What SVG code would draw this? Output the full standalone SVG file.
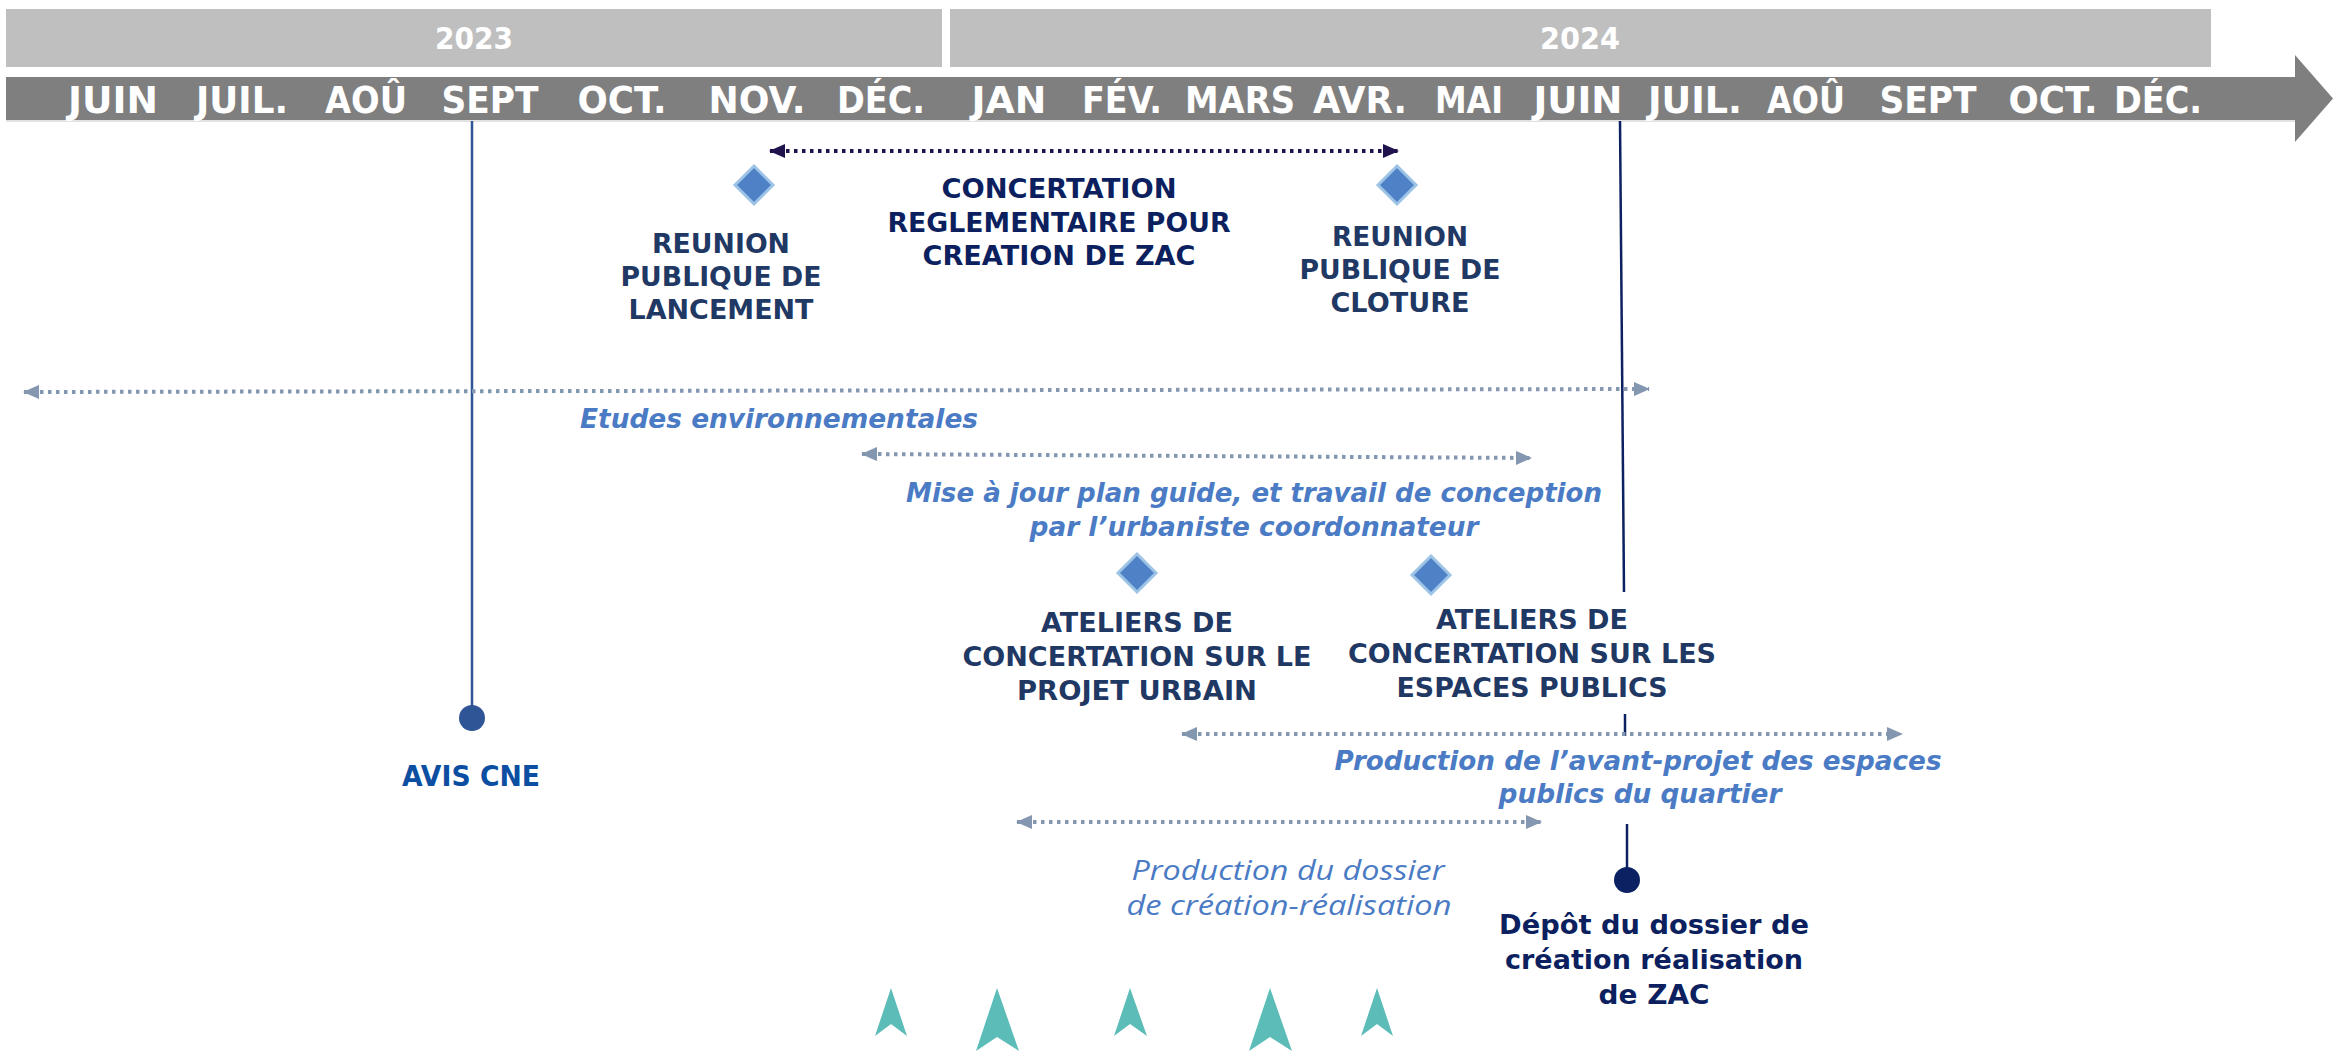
<svg xmlns="http://www.w3.org/2000/svg" width="2333" height="1051" viewBox="0 0 2333 1051">
<style>
  .yr{font-family:"DejaVu Sans",sans-serif;font-weight:bold;font-size:30px;fill:#ffffff;text-anchor:middle}
  .mo{font-family:"DejaVu Sans",sans-serif;font-weight:bold;font-size:37px;fill:#ffffff;text-anchor:middle}
  .nv{font-family:"DejaVu Sans",sans-serif;font-weight:bold;font-size:26px;fill:#1f3864;text-anchor:middle}
  .nd{font-family:"DejaVu Sans",sans-serif;font-weight:bold;font-size:26px;fill:#0c1f5e;text-anchor:middle}
  .cne{font-family:"DejaVu Sans",sans-serif;font-weight:bold;font-size:28px;fill:#0b4ea2;text-anchor:middle}
  .it{font-family:"DejaVu Sans",sans-serif;font-weight:bold;font-style:italic;font-size:26px;fill:#4a7bc4;text-anchor:middle}
  .lt{font-family:"Open Sans",sans-serif;font-weight:400;font-style:italic;font-size:27px;fill:#4a7bc4;text-anchor:middle}
  .dot{fill:none;stroke:#8497b0;stroke-width:4;stroke-dasharray:3.5 4.5}
  .dotd{fill:none;stroke:#20124d;stroke-width:4;stroke-dasharray:3.5 4.5}
  .dia{fill:#4f81c7;stroke:#9dc3e6;stroke-width:3}
  .teal{fill:#5bbcb8}
</style>
<defs>
  <marker id="ag" markerUnits="userSpaceOnUse" markerWidth="16" markerHeight="14" refX="15" refY="7" orient="auto-start-reverse">
    <path d="M0,0 L16,7 L0,14 z" fill="#8497b0"/>
  </marker>
  <marker id="ad" markerUnits="userSpaceOnUse" markerWidth="16" markerHeight="14" refX="15" refY="7" orient="auto-start-reverse">
    <path d="M0,0 L16,7 L0,14 z" fill="#20124d"/>
  </marker>
</defs>
<rect width="2333" height="1051" fill="#ffffff"/>

<g id="years">
  <rect x="6" y="9" width="936" height="58" fill="#bfbfbf"/>
  <rect x="950" y="9" width="1261" height="58" fill="#bfbfbf"/>
  <text class="yr" x="474" y="49" textLength="78" lengthAdjust="spacingAndGlyphs">2023</text>
  <text class="yr" x="1580" y="49" textLength="80" lengthAdjust="spacingAndGlyphs">2024</text>
</g>

<g id="timeline">
  <polygon points="6,77 2295,77 2295,55 2333,98.5 2295,142 2295,120 6,120" fill="#7f7f7f"/>
  <line x1="6" y1="121" x2="2295" y2="121" stroke="#d9d9d9" stroke-width="1.5"/>
  <text class="mo" x="113" y="113" textLength="90" lengthAdjust="spacingAndGlyphs">JUIN</text>
  <text class="mo" x="242" y="113" textLength="92" lengthAdjust="spacingAndGlyphs">JUIL.</text>
  <text class="mo" x="366" y="113" textLength="82" lengthAdjust="spacingAndGlyphs">AOÛ</text>
  <text class="mo" x="490" y="113" textLength="97" lengthAdjust="spacingAndGlyphs">SEPT</text>
  <text class="mo" x="622" y="113" textLength="89" lengthAdjust="spacingAndGlyphs">OCT.</text>
  <text class="mo" x="757" y="113" textLength="97" lengthAdjust="spacingAndGlyphs">NOV.</text>
  <text class="mo" x="881" y="113" textLength="88" lengthAdjust="spacingAndGlyphs">DÉC.</text>
  <text class="mo" x="1009" y="113" textLength="75" lengthAdjust="spacingAndGlyphs">JAN</text>
  <text class="mo" x="1122" y="113" textLength="80" lengthAdjust="spacingAndGlyphs">FÉV.</text>
  <text class="mo" x="1240" y="113" textLength="110" lengthAdjust="spacingAndGlyphs">MARS</text>
  <text class="mo" x="1360" y="113" textLength="94" lengthAdjust="spacingAndGlyphs">AVR.</text>
  <text class="mo" x="1469" y="113" textLength="68" lengthAdjust="spacingAndGlyphs">MAI</text>
  <text class="mo" x="1578" y="113" textLength="89" lengthAdjust="spacingAndGlyphs">JUIN</text>
  <text class="mo" x="1695" y="113" textLength="94" lengthAdjust="spacingAndGlyphs">JUIL.</text>
  <text class="mo" x="1806" y="113" textLength="78" lengthAdjust="spacingAndGlyphs">AOÛ</text>
  <text class="mo" x="1928" y="113" textLength="97" lengthAdjust="spacingAndGlyphs">SEPT</text>
  <text class="mo" x="2053" y="113" textLength="89" lengthAdjust="spacingAndGlyphs">OCT.</text>
  <text class="mo" x="2158" y="113" textLength="88" lengthAdjust="spacingAndGlyphs">DÉC.</text>
</g>

<g id="connectors">
  <line x1="472" y1="121" x2="472" y2="706" stroke="#2f5597" stroke-width="2.5"/>
  <line x1="1620" y1="121" x2="1624" y2="592" stroke="#0c2161" stroke-width="2.5"/>
  <line x1="1625" y1="714" x2="1625" y2="736" stroke="#0c2161" stroke-width="2.5"/>
  <line x1="1627" y1="824" x2="1627" y2="870" stroke="#0c2161" stroke-width="2.5"/>
  <line class="dotd" x1="770" y1="151" x2="1398" y2="151" marker-start="url(#ad)" marker-end="url(#ad)"/>
  <line class="dot" x1="24" y1="392" x2="1649" y2="389" marker-start="url(#ag)" marker-end="url(#ag)"/>
  <line class="dot" x1="862" y1="454" x2="1531" y2="458" marker-start="url(#ag)" marker-end="url(#ag)"/>
  <line class="dot" x1="1182" y1="734" x2="1902" y2="734" marker-start="url(#ag)" marker-end="url(#ag)"/>
  <line class="dot" x1="1017" y1="822" x2="1541" y2="822" marker-start="url(#ag)" marker-end="url(#ag)"/>
</g>

<g id="reunion-lancement">
  <polygon class="dia" points="754,166 773,185 754,204 735,185"/>
  <text class="nv" x="721" y="253" textLength="138" lengthAdjust="spacingAndGlyphs">REUNION</text>
  <text class="nv" x="721" y="286" textLength="201" lengthAdjust="spacingAndGlyphs">PUBLIQUE DE</text>
  <text class="nv" x="721" y="319" textLength="185" lengthAdjust="spacingAndGlyphs">LANCEMENT</text>
</g>

<g id="concertation">
  <text class="nd" x="1059" y="198" textLength="235" lengthAdjust="spacingAndGlyphs">CONCERTATION</text>
  <text class="nd" x="1059" y="232" textLength="343" lengthAdjust="spacingAndGlyphs">REGLEMENTAIRE POUR</text>
  <text class="nd" x="1059" y="265" textLength="273" lengthAdjust="spacingAndGlyphs">CREATION DE ZAC</text>
</g>

<g id="reunion-cloture">
  <polygon class="dia" points="1397,166 1416,185 1397,204 1378,185"/>
  <text class="nv" x="1400" y="246" textLength="136" lengthAdjust="spacingAndGlyphs">REUNION</text>
  <text class="nv" x="1400" y="279" textLength="201" lengthAdjust="spacingAndGlyphs">PUBLIQUE DE</text>
  <text class="nv" x="1400" y="312" textLength="139" lengthAdjust="spacingAndGlyphs">CLOTURE</text>
</g>

<g id="etudes">
  <text class="it" x="779" y="428" textLength="398" lengthAdjust="spacingAndGlyphs">Etudes environnementales</text>
</g>

<g id="plan-guide">
  <text class="it" x="1254" y="502" textLength="696" lengthAdjust="spacingAndGlyphs">Mise à jour plan guide, et travail de conception</text>
  <text class="it" x="1254" y="536" textLength="449" lengthAdjust="spacingAndGlyphs">par l’urbaniste coordonnateur</text>
</g>

<g id="ateliers-projet">
  <polygon class="dia" points="1137,554 1156,573 1137,592 1118,573"/>
  <text class="nv" x="1137" y="632" textLength="192" lengthAdjust="spacingAndGlyphs">ATELIERS DE</text>
  <text class="nv" x="1137" y="666" textLength="349" lengthAdjust="spacingAndGlyphs">CONCERTATION SUR LE</text>
  <text class="nv" x="1137" y="700" textLength="240" lengthAdjust="spacingAndGlyphs">PROJET URBAIN</text>
</g>

<g id="ateliers-espaces">
  <polygon class="dia" points="1431,556 1450,575 1431,594 1412,575"/>
  <text class="nv" x="1532" y="629" textLength="192" lengthAdjust="spacingAndGlyphs">ATELIERS DE</text>
  <text class="nv" x="1532" y="663" textLength="368" lengthAdjust="spacingAndGlyphs">CONCERTATION SUR LES</text>
  <text class="nv" x="1532" y="697" textLength="271" lengthAdjust="spacingAndGlyphs">ESPACES PUBLICS</text>
</g>

<g id="avis-cne">
  <circle cx="472" cy="718" r="13" fill="#2f5597"/>
  <text class="cne" x="471" y="786" textLength="138" lengthAdjust="spacingAndGlyphs">AVIS CNE</text>
</g>

<g id="avant-projet">
  <text class="it" x="1638" y="770" textLength="607" lengthAdjust="spacingAndGlyphs">Production de l’avant-projet des espaces</text>
  <text class="it" x="1640" y="803" textLength="283" lengthAdjust="spacingAndGlyphs">publics du quartier</text>
</g>

<g id="dossier">
  <text class="lt" x="1288" y="880" textLength="313" lengthAdjust="spacingAndGlyphs">Production du dossier</text>
  <text class="lt" x="1289" y="915" textLength="325" lengthAdjust="spacingAndGlyphs">de création-réalisation</text>
</g>

<g id="depot">
  <circle cx="1627" cy="880" r="13" fill="#0c2161"/>
  <text class="nd" x="1654" y="934" textLength="310" lengthAdjust="spacingAndGlyphs">Dépôt du dossier de</text>
  <text class="nd" x="1654" y="969" textLength="298" lengthAdjust="spacingAndGlyphs">création réalisation</text>
  <text class="nd" x="1654" y="1004" textLength="111" lengthAdjust="spacingAndGlyphs">de ZAC</text>
</g>

<g id="north-arrows">
  <polygon class="teal" points="891,988 907,1036 891,1024 875,1036"/>
  <polygon class="teal" points="997,988 1019,1051 997,1037 976,1051"/>
  <polygon class="teal" points="1130,988 1147,1036 1130,1024 1114,1036"/>
  <polygon class="teal" points="1270,988 1292,1051 1270,1037 1249,1051"/>
  <polygon class="teal" points="1377,988 1393,1036 1377,1024 1361,1036"/>
</g>
</svg>
